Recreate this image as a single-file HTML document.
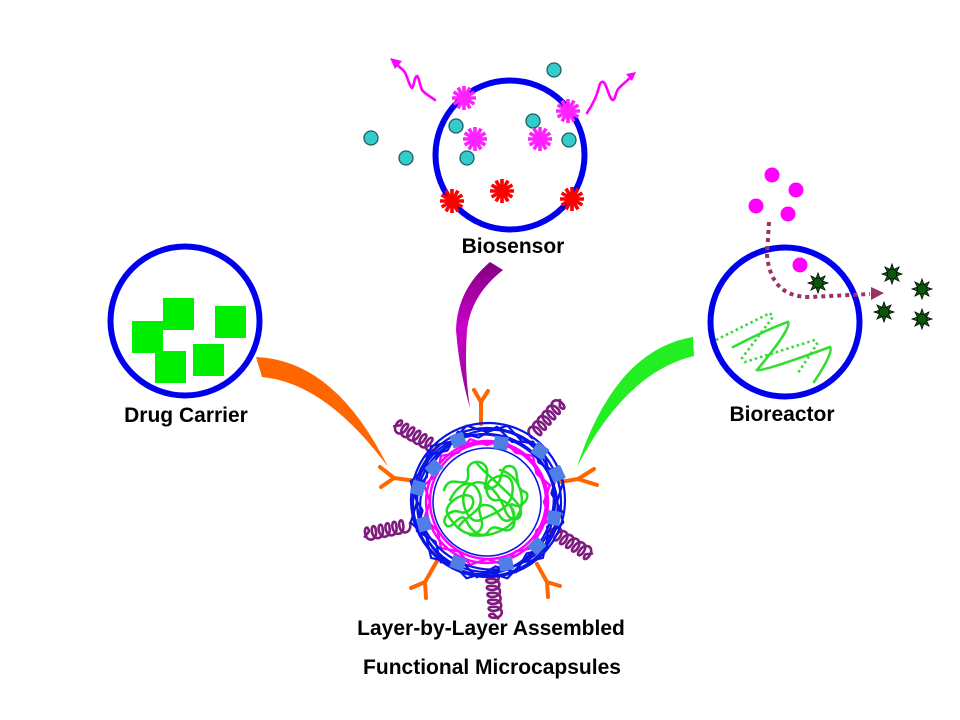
<!DOCTYPE html>
<html><head><meta charset="utf-8"><style>
html,body{margin:0;padding:0;background:#fff;width:960px;height:720px;overflow:hidden}
svg{display:block}
text{font-family:"Liberation Sans",Arial,sans-serif;font-weight:bold;font-size:21px;fill:#000}
</style></head><body>
<svg width="960" height="720" viewBox="0 0 960 720" xmlns="http://www.w3.org/2000/svg">
<defs>
<g id="ast" stroke="currentColor" stroke-width="3.6" stroke-linecap="butt">
<line x1="-12" y1="0" x2="12" y2="0"/><line x1="-10.4" y1="-6" x2="10.4" y2="6"/>
<line x1="-6" y1="-10.4" x2="6" y2="10.4"/><line x1="0" y1="-12" x2="0" y2="12"/>
<line x1="6" y1="-10.4" x2="-6" y2="10.4"/><line x1="10.4" y1="-6" x2="-10.4" y2="6"/>
<circle r="6.5" fill="currentColor" stroke="none"/>
</g>
<g id="gstar">
<polygon points="10,0 4.62,1.91 7.07,7.07 1.91,4.62 0,10 -1.91,4.62 -7.07,7.07 -4.62,1.91 -10,0 -4.62,-1.91 -7.07,-7.07 -1.91,-4.62 0,-10 1.91,-4.62 7.07,-7.07 4.62,-1.91" fill="#0E6A0E" stroke="#000" stroke-width="0.8"/>
<circle r="5" fill="#0A560A" stroke="#000" stroke-width="0.6"/>
</g>
<g id="teal"><circle r="7" fill="#33CCCC" stroke="#1F5F5F" stroke-width="1.3"/></g>
<g id="sq"><rect x="-7" y="-6.5" width="14" height="13" fill="#4F7FE6"/></g>
<path id="curl" d="M0,0 c0,-11 12,-11 11,0 c-0.5,6 -5,6 -4,0 c0,-11 12,-11 11,0 c-0.5,6 -5,6 -4,0 c0,-11 12,-11 11,0 c-0.5,6 -5,6 -4,0 c0,-11 12,-11 11,0 c-0.5,6 -5,6 -4,0 c0,-11 12,-11 11,0 c-0.5,6 -5,6 -4,0 c0,-11 12,-11 11,0 c-0.5,6 -5,6 -4,0 l5,-4" fill="none" stroke="#7F1A7F" stroke-width="2.6" stroke-linejoin="round" stroke-linecap="round"/>
<linearGradient id="pg" x1="0" y1="0" x2="0" y2="1">
<stop offset="0" stop-color="#800080"/><stop offset="0.45" stop-color="#CC00CC"/><stop offset="1" stop-color="#8A0A8A"/>
</linearGradient>
</defs>

<!-- Biosensor -->
<circle cx="510" cy="155" r="74.5" fill="none" stroke="#0000EE" stroke-width="6"/>
<use href="#teal" x="371" y="138"/><use href="#teal" x="406" y="158"/>
<use href="#teal" x="456" y="126"/><use href="#teal" x="467" y="158"/>
<use href="#teal" x="554" y="70"/><use href="#teal" x="533" y="121"/>
<use href="#teal" x="569" y="140"/>
<use href="#ast" x="464" y="98" color="#FF22FF"/><use href="#ast" x="475" y="139" color="#FF22FF"/>
<use href="#ast" x="540" y="139" color="#FF22FF"/><use href="#ast" x="568" y="111" color="#FF22FF"/>
<use href="#ast" x="452" y="201" color="#FF0000"/><use href="#ast" x="502" y="191" color="#FF0000"/>
<use href="#ast" x="572" y="199" color="#FF0000"/>
<g fill="none" stroke="#FF00FF" stroke-width="2.6" stroke-linejoin="round" stroke-linecap="round">
<path d="M435,100 C428,95 424,93 422,90 C420,86 419,77 417,76 C414,77 414,87 412,88 C409,86 408,77 404,71 L395,63"/>
<path d="M587,113 C593,104 597,96 599,87 C600,82 603,80 605,84 C608,90 610,100 613,100 C616,99 615,92 619,88 C623,84 628,80 632,76"/>
</g>
<polygon points="390,58 402,61 395,69" fill="#FF00FF"/>
<polygon points="636,72 626,74 632,81" fill="#FF00FF"/>
<text x="513" y="253" text-anchor="middle">Biosensor</text>

<!-- Drug carrier -->
<circle cx="185" cy="321" r="74.5" fill="none" stroke="#0000EE" stroke-width="6"/>
<g fill="#00EE00">
<rect x="163" y="298" width="31" height="32"/>
<rect x="132" y="321" width="31" height="32"/>
<rect x="155" y="351" width="31" height="32"/>
<rect x="215" y="306" width="31" height="32"/>
<rect x="193" y="344" width="31" height="32"/>
</g>
<text x="186" y="422" text-anchor="middle">Drug Carrier</text>

<!-- Bioreactor -->
<circle cx="785" cy="322" r="74.5" fill="none" stroke="#0000EE" stroke-width="6"/>
<g fill="#FF00FF">
<circle cx="772" cy="175" r="7.5"/><circle cx="796" cy="190" r="7.5"/>
<circle cx="756" cy="206" r="7.5"/><circle cx="788" cy="214" r="7.5"/>
<circle cx="800" cy="265" r="7.5"/>
</g>
<path d="M769,222 L767,255 C770,285 785,297 810,297 L870,294" fill="none" stroke="#993366" stroke-width="4" stroke-dasharray="4 4"/>
<polygon points="871,287 884,293 871,300" fill="#993366"/>
<use href="#gstar" x="818" y="283"/><use href="#gstar" x="892" y="274"/>
<use href="#gstar" x="922" y="289"/><use href="#gstar" x="884" y="312"/>
<use href="#gstar" x="922" y="319"/>
<path d="M733,347 Q770,328 788,322 Q792,328 757,370 Q762,372 830,347 Q834,352 814,382" fill="none" stroke="#33DD33" stroke-width="2.6" stroke-linecap="round"/>
<polyline points="716,340 770,313 773,317 742,358 745,362 815,340 817,344 798,373" fill="none" stroke="#33DD33" stroke-width="2.6" stroke-dasharray="2.5 3"/>
<text x="782" y="421" text-anchor="middle">Bioreactor</text>

<!-- Connectors -->
<path d="M256,357 Q335,360 388,467 Q326,383 262,377 Z" fill="#FF6600"/>
<path d="M490,262 L503,270 Q471,295 467,330 Q464,370 470,408 Q459,370 456,330 Q457,290 490,262 Z" fill="url(#pg)"/>
<path d="M693,337 Q615,350 577,467 Q626,372 694,356 Z" fill="#22EE22"/>

<!-- Microcapsule -->
<!-- purple chains -->
<use href="#curl" transform="translate(437,446) rotate(209.6)"/>
<use href="#curl" transform="translate(532,438) rotate(-48.7)"/>
<use href="#curl" transform="translate(410,523) rotate(168)"/>
<use href="#curl" transform="translate(550,532) rotate(32)"/>
<use href="#curl" transform="translate(490,572) rotate(85)"/>
<g fill="none" stroke-linejoin="round" stroke-linecap="round">
<!-- orange Ys -->
<g stroke="#FF6600" stroke-width="4">
<polyline points="474,390 481,402 488,391"/><line x1="481" y1="402" x2="481" y2="424"/>
<polyline points="380,467 394,478 381,487"/><line x1="394" y1="478" x2="416" y2="481"/>
<polyline points="594,469 578,479 597,485"/><line x1="578" y1="479" x2="560" y2="482"/>
<polyline points="411,588 425,582 426,598"/><line x1="425" y1="582" x2="437" y2="561"/>
<polyline points="560,586 547,582 548,597"/><line x1="547" y1="582" x2="537" y2="564"/>
</g>
<!-- magenta layer -->
<g stroke="#FF00FF" stroke-width="2.4">
<circle cx="487" cy="502" r="61"/>
<circle cx="488" cy="501" r="58"/>
<polygon points="544,502 549.8,518.8 536.4,530.5 533,548 515.5,551.4 503.8,564.8 487,559 470.2,564.8 458.5,551.4 441,548 437.6,530.5 424.2,518.8 430,502 424.2,485.2 437.6,473.5 441,456 458.5,452.6 470.2,439.2 487,445 503.8,439.2 515.5,452.6 533,456 536.4,473.5 549.8,485.2"/>
</g>
<!-- blue layer -->
<g stroke="#0A14E6" stroke-width="2.2">
<polygon points="557,502 563.3,522.5 547.6,537 542.9,557.9 522,562.6 507.5,578.3 487,572 466.5,578.3 452,562.6 431.1,557.9 426.4,537 410.7,522.5 417,502 410.7,481.5 426.4,467 431.1,446.1 452,441.4 466.5,425.7 487,432 507.5,425.7 522,441.4 542.9,446.1 547.6,467 563.3,481.5"/>
<polygon points="562.3,512 547.1,526.9 547.3,548.3 526.6,553.5 516.1,572.2 495.5,566.4 477,577.3 462.1,562.1 440.7,562.3 435.5,541.6 416.8,531.1 422.6,510.5 411.7,492 426.9,477.1 426.7,455.7 447.4,450.5 457.9,431.8 478.5,437.6 497,426.7 511.9,441.9 533.3,441.7 538.5,462.4 557.2,472.9 551.4,493.5"/>
<circle cx="487" cy="502" r="74"/>
<circle cx="486" cy="503" r="69"/>
<circle cx="488" cy="500" r="77"/>
<circle cx="487" cy="502" r="54" stroke-width="1.6"/>
<ellipse cx="487" cy="502" rx="72" ry="66" transform="rotate(30 487 502)"/>
<ellipse cx="487" cy="502" rx="66" ry="73" transform="rotate(20 487 502)"/>
</g>
<!-- green tangle -->
<path stroke="#22DD22" stroke-width="2.5" d="M444,490 C450,470 470,495 468,472 C466,460 485,458 487,470 C489,482 478,492 492,488 C505,484 498,465 510,466 C522,468 512,488 525,492 C532,495 522,510 514,505 C505,500 520,520 512,528 C504,536 495,520 488,532 C482,540 470,530 466,520 C460,510 452,532 446,525 C440,518 452,508 460,512 C470,516 478,500 470,496 C460,492 445,505 447,512 C449,520 465,540 478,532 C490,524 470,505 485,505 C500,505 498,525 510,520 C522,515 505,498 498,500 C488,503 480,485 494,478 C508,471 515,480 512,495 C509,510 490,515 480,520 C468,526 455,495 470,485 C485,475 500,495 505,510 C510,525 525,520 520,508 C515,496 480,470 476,462 M450,500 C460,480 475,478 480,495 C485,512 465,515 458,528 M500,470 C520,475 527,500 518,515 C510,530 490,538 470,535"/>
</g>
<!-- blue squares -->
<use href="#sq" transform="translate(458,440) rotate(-20)"/>
<use href="#sq" transform="translate(501,443) rotate(8)"/>
<use href="#sq" transform="translate(540,451) rotate(35)"/>
<use href="#sq" transform="translate(434,468) rotate(-45)"/>
<use href="#sq" transform="translate(557,474) rotate(65)"/>
<use href="#sq" transform="translate(418,488) rotate(-75)"/>
<use href="#sq" transform="translate(554,518) rotate(100)"/>
<use href="#sq" transform="translate(424,524) rotate(75)"/>
<use href="#sq" transform="translate(537,546) rotate(135)"/>
<use href="#sq" transform="translate(458,563) rotate(20)"/>
<use href="#sq" transform="translate(506,564) rotate(-10)"/>

<text x="491" y="635" text-anchor="middle">Layer-by-Layer Assembled</text>
<text x="492" y="674" text-anchor="middle">Functional Microcapsules</text>
</svg>
</body></html>
